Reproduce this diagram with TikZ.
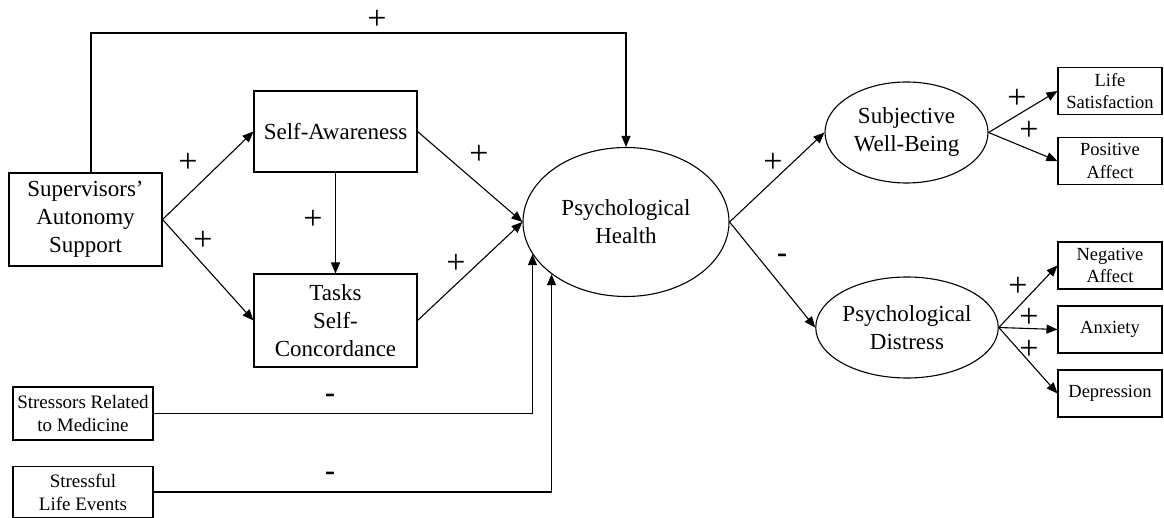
\documentclass[tikz,border=0pt]{standalone}
\usepackage{fontspec}
\setmainfont{Liberation Serif}
\usetikzlibrary{arrows.meta,shapes.geometric}
\begin{document}
\begin{tikzpicture}[x=1pt,y=-1pt,
  box/.style={draw,line width=1.1pt,inner sep=0pt,align=center,font=\fontsize{23}{28}\selectfont},
  sbox/.style={draw,line width=1.1pt,inner sep=0pt,align=center,minimum width=104pt,minimum height=47pt,font=\fontsize{18.5}{22.5}\selectfont},
  stbox/.style={draw,line width=1.1pt,inner sep=0pt,align=center,minimum width=140pt,font=\fontsize{19}{23}\selectfont},
  ell/.style={draw,ellipse,line width=1.1pt,inner sep=0pt,align=center,font=\fontsize{23}{28}\selectfont},
  arr/.style={line width=1.1pt,-{Triangle[length=11pt,width=9pt]}},
  plus/.style={font=\fontsize{34}{34}\selectfont,inner sep=0pt},
  minus/.style={font=\fontsize{30}{30}\selectfont\bfseries,inner sep=0pt}]
\useasboundingbox (0,0) rectangle (1164,518);
% nodes
\node[box,minimum width=153pt,minimum height=93pt] (sup) at (85.5,219.5) {Supervisors’\\Autonomy\\Support};
\node[box,minimum width=163pt,minimum height=81pt] (sa) at (335.5,131.5) {Self-Awareness};
\node[box,minimum width=163pt,minimum height=93pt] (tsc) at (335.5,320.5) {Tasks\\Self-\\Concordance};
\node[ell,minimum width=206pt,minimum height=149pt] (ph) at (626,222) {Psychological\\Health};
\node[stbox,minimum height=53pt] (str1) at (83,413.5) {Stressors Related\\to Medicine};
\node[stbox,minimum height=51pt] (str2) at (83,492) {Stressful\\Life Events};
\node[ell,minimum width=163pt,minimum height=101pt] (swb) at (906.5,132.5) {Subjective\\Well-Being};
\node[ell,minimum width=164pt,minimum height=101pt] (pd) at (907,327.5) {Psychological\\Distress};
\node[sbox] (ls) at (1110,91) {Life\\Satisfaction};
\node[sbox] (pa) at (1110,161) {Positive\\Affect};
\node[sbox] (na) at (1110,265.5) {Negative\\Affect};
\node[sbox] (anx) at (1110,329.5) {Anxiety};
\node[sbox] (dep) at (1110,393.5) {Depression};
\coordinate (topc) at (626,33);
% connectors
\draw[arr] ([xshift=5.5pt]sup.north) |- (topc) -- (ph.north);
\draw[arr] (sup.east) -- (sa.west);
\draw[arr] (sup.east) -- (tsc.west);
\draw[arr] (sa.south) -- (tsc.north);
\draw[arr] (sa.east) -- (ph.west);
\draw[arr] (tsc.east) -- (ph.west);
\draw[arr] (str1.east) -| (ph.199);
\draw[arr] (str2.east) -| (ph.215);
\draw[arr] (ph.east) -- (swb.west);
\draw[arr] (ph.east) -- (pd.west);
\draw[arr] (swb.east) -- (ls.west);
\draw[arr] (swb.east) -- (pa.west);
\draw[arr] (pd.east) -- (na.west);
\draw[arr] (pd.east) -- (anx.west);
\draw[arr] (pd.east) -- (dep.west);
% labels
\node[plus] (l1) at (377,20) {+};
\node[plus] (l2) at (188,163) {+};
\node[plus] (l3) at (203,241) {+};
\node[plus] (l4) at (313,220) {+};
\node[plus] (l5) at (479,155) {+};
\node[plus] (l6) at (456,264) {+};
\node[minus] (l7) at (330,398) {-};
\node[minus] (l8) at (330,476) {-};
\node[plus] (l9) at (773,163) {+};
\node[minus] (l10) at (782,258) {-};
\node[plus] (l11) at (1017,99) {+};
\node[plus] (l12) at (1029,131) {+};
\node[plus] (l13) at (1018,287) {+};
\node[plus] (l14) at (1029,318) {+};
\node[plus] (l15) at (1029,350) {+};
\end{tikzpicture}
\end{document}
